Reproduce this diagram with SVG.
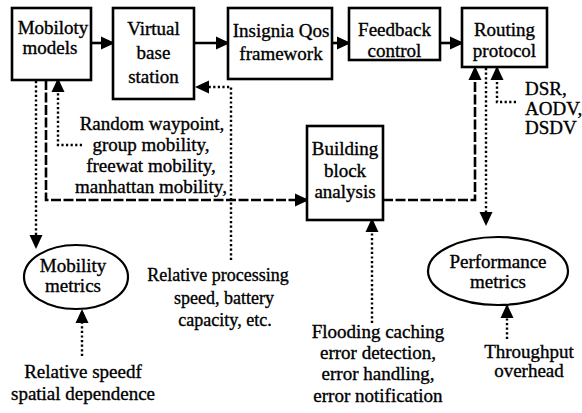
<svg xmlns="http://www.w3.org/2000/svg" width="582" height="413" viewBox="0 0 582 413">
<style>
.box{fill:#fff;stroke:#000;stroke-width:2.6}
.ell{fill:#fff;stroke:#000;stroke-width:2.2}
text{font-family:"Liberation Serif","Times New Roman",serif;font-size:19px;fill:#000;stroke:#000;stroke-width:0.35}
.c{text-anchor:middle}
.solid{fill:none;stroke:#000;stroke-width:2.6}
.dash{fill:none;stroke:#000;stroke-width:2.6;stroke-dasharray:10 2.5}
.dot{fill:none;stroke:#000;stroke-width:2.4;stroke-dasharray:2.2 2.4}
</style>
<defs>
<marker id="ah" markerUnits="userSpaceOnUse" markerWidth="14" markerHeight="14" viewBox="0 0 14 14" refX="12" refY="7" orient="auto">
<path d="M0,0.5 L14,7 L0,13.5 z" fill="#000"/>
</marker>
</defs>
<rect width="582" height="413" fill="#fff"/>

<g id="connectors">
<line class="solid" x1="91" y1="43" x2="113" y2="43" marker-end="url(#ah)"/>
<line class="solid" x1="194" y1="43" x2="228" y2="43" marker-end="url(#ah)"/>
<line class="solid" x1="332" y1="43" x2="349" y2="43" marker-end="url(#ah)"/>
<line class="solid" x1="440" y1="43" x2="462" y2="43" marker-end="url(#ah)"/>
<path class="dash" d="M46,80 V200 H307" marker-end="url(#ah)"/>
<path class="dash" d="M383,200 H475 V68" marker-end="url(#ah)"/>
<path class="dot" d="M82,145 H58 V80" marker-end="url(#ah)"/>
<path class="dot" d="M36,81 V247" marker-end="url(#ah)"/>
<path class="dot" d="M82,356 V311" marker-end="url(#ah)"/>
<path class="dot" d="M231,260 V87 H197" marker-end="url(#ah)"/>
<path class="dot" d="M486,68 V224" marker-end="url(#ah)"/>
<path class="dot" d="M516,102 H497 V68" marker-end="url(#ah)"/>
<path class="dot" d="M372,323 V220" marker-end="url(#ah)"/>
<path class="dot" d="M507,339 V306" marker-end="url(#ah)"/>
</g>

<g id="mobility-models">
<rect class="box" x="12" y="8" width="79" height="72"/>
<text class="c" x="53" y="34">Mobiloty</text>
<text class="c" x="50" y="54">models</text>
</g>
<g id="virtual-base-station">
<rect class="box" x="113" y="8" width="81" height="91"/>
<text class="c" x="153.5" y="35">Virtual</text>
<text class="c" x="153.5" y="59">base</text>
<text class="c" x="153.5" y="83">station</text>
</g>
<g id="insignia-qos">
<rect class="box" x="228" y="8" width="104" height="71"/>
<text class="c" x="281" y="37">Insignia Qos</text>
<text class="c" x="281" y="60">framework</text>
</g>
<g id="feedback-control">
<rect class="box" x="349" y="8" width="91" height="52"/>
<text class="c" x="394.5" y="36">Feedback</text>
<text class="c" x="394.5" y="57">control</text>
</g>
<g id="routing-protocol">
<rect class="box" x="462" y="8" width="85" height="59"/>
<text class="c" x="504.5" y="36">Routing</text>
<text class="c" x="504.5" y="57">protocol</text>
</g>
<g id="building-block">
<rect class="box" x="307" y="126" width="76" height="94"/>
<text class="c" x="345" y="155">Building</text>
<text class="c" x="345" y="177">block</text>
<text class="c" x="345" y="198">analysis</text>
</g>
<g id="mobility-metrics">
<ellipse class="ell" cx="76" cy="277" rx="52" ry="32"/>
<text class="c" x="73" y="272">Mobility</text>
<text class="c" x="73" y="292">metrics</text>
</g>
<g id="performance-metrics">
<ellipse class="ell" cx="498" cy="271" rx="70" ry="34"/>
<text class="c" x="498" y="268">Performance</text>
<text class="c" x="498" y="288">metrics</text>
</g>

<g id="labels">
<text class="c" x="152" y="130">Random waypoint,</text>
<text class="c" x="151" y="151">group mobility,</text>
<text class="c" x="151" y="172">freewat mobility,</text>
<text class="c" x="151" y="193">manhattan mobility,</text>
<text x="525" y="95">DSR,</text>
<text x="525" y="115">AODV,</text>
<text x="525" y="134">DSDV</text>
<text class="c" x="218" y="281" style="font-size:18px">Relative processing</text>
<text class="c" x="224" y="304" style="font-size:18px">speed, battery</text>
<text class="c" x="225" y="326" style="font-size:18px">capacity, etc.</text>
<text class="c" x="83" y="378">Relative speedf</text>
<text class="c" x="83" y="400">spatial dependence</text>
<text class="c" x="378" y="338">Flooding caching</text>
<text class="c" x="378" y="359">error detection,</text>
<text class="c" x="378" y="380">error handling,</text>
<text class="c" x="378" y="402">error notification</text>
<text class="c" x="529" y="358">Throughput</text>
<text class="c" x="529" y="377">overhead</text>
</g>
</svg>
